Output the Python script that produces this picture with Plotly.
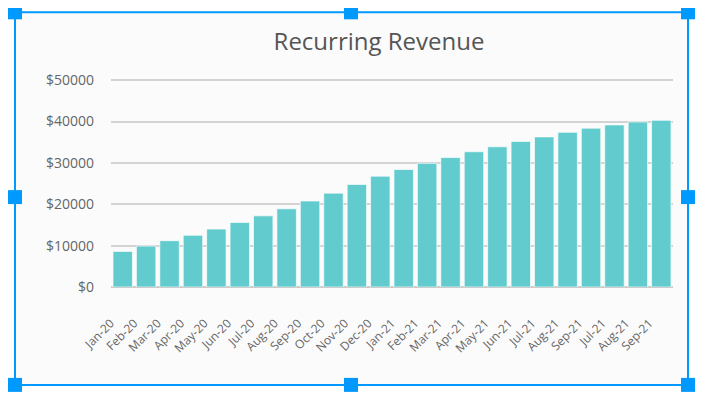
import plotly.graph_objects as go

months = ["Jan-20", "Feb-20", "Mar-20", "Apr-20", "May-20", "Jun-20", "Jul-20", "Aug-20",
          "Sep-20", "Oct-20", "Nov-20", "Dec-20", "Jan-21", "Feb-21", "Mar-21", "Apr-21",
          "May-21", "Jun-21", "Jul-21", "Aug-21", "Sep-21", "Jul-21", "Aug-21", "Sep-21"]
revenue = [8600, 9900, 11200, 12500, 14000, 15600, 17200, 18900,
           20800, 22700, 24800, 26800, 28400, 29900, 31300, 32700,
           33900, 35200, 36300, 37400, 38400, 39200, 39900, 40300]
y_ticks = [0, 10000, 20000, 30000, 40000, 50000]

# the page body has an 8px margin; work in page pixels and convert
OFF = 8
W, H = 704 - OFF, 399 - OFF
Y_TOP = 50300
L = 111 - OFF
R = 673 - OFF
B = 287 - OFF
T = B - (287 - 80) * Y_TOP / 50000
BLUE = "#0099FF"


def px(x):
    return (x - OFF - L) / (R - L)


def py(y):
    return (B - (y - OFF)) / (B - T)


positions = list(range(len(months)))

fig = go.Figure()
fig.add_trace(go.Bar(
    x=positions, y=revenue,
    marker=dict(color="#62CBCD", line=dict(color="rgba(255,255,255,0.65)", width=1)),
    hoverinfo="skip",
))

shapes = [dict(type="rect", xref="paper", yref="paper", layer="below",
               x0=px(15), x1=px(688), y0=py(385), y1=py(12),
               fillcolor="#FBFBFB", line=dict(color=BLUE, width=2))]
for hx, hy in [(15, 12), (351, 12), (688, 12), (15, 197), (688, 197),
               (15, 385), (351, 385), (688, 385)]:
    shapes.append(dict(type="rect", xref="paper", yref="paper", layer="above",
                       x0=px(hx - 7), x1=px(hx + 7), y0=py(hy + 7), y1=py(hy - 7),
                       fillcolor=BLUE, line=dict(width=0)))

fig.update_layout(
    width=W, height=H,
    margin=dict(l=L, r=W - R, t=T, b=H - B, autoexpand=False),
    paper_bgcolor="white", plot_bgcolor="rgba(0,0,0,0)",
    font=dict(family="Open Sans", color="#666666"),
    title=dict(text="Recurring Revenue", x=px(379), xref="paper", xanchor="center",
               y=1 - (42 - OFF) / H, yref="container", yanchor="middle",
               font=dict(size=24, color="#555555", family="Open Sans")),
    bargap=0.17,
    showlegend=False,
    shapes=shapes,
    xaxis=dict(tickmode="array", tickvals=positions, ticktext=months, tickangle=-45,
               range=[-0.5, len(months) - 0.5], showgrid=False, zeroline=False,
               showline=False, ticks="", ticklabelstandoff=26, ticklabelshift=-12,
               tickfont=dict(size=12, color="#666666")),
    yaxis=dict(range=[0, Y_TOP], tickmode="array", tickvals=y_ticks,
               ticktext=["$" + str(v) for v in y_ticks],
               showgrid=True, gridcolor="#D3D3D3", gridwidth=1.5,
               zeroline=True, zerolinecolor="#CCCCCC", zerolinewidth=2,
               showline=False, ticks="", ticklabelstandoff=16,
               tickfont=dict(size=14, color="#666666")),
)

fig.write_html("out.html")
